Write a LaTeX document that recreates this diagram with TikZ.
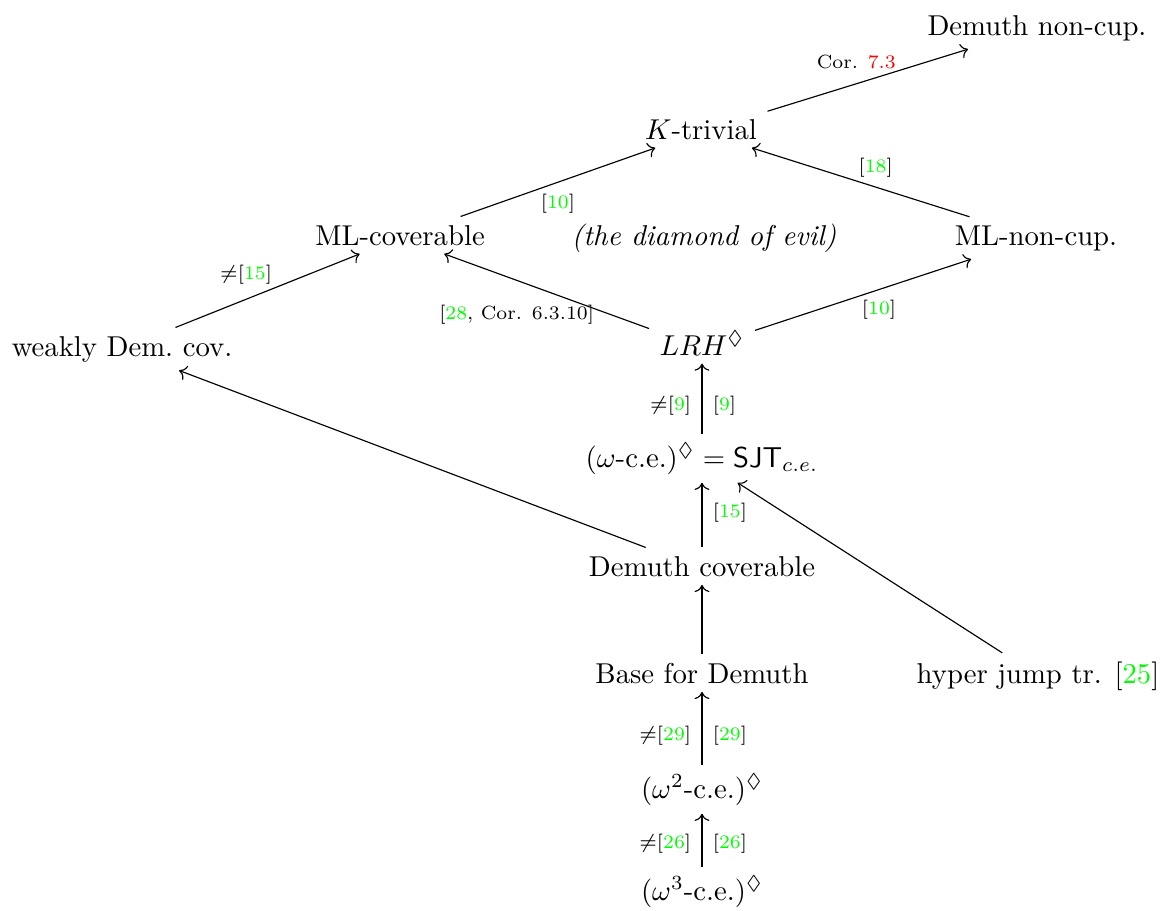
\documentclass[tikz,border=0pt]{standalone}
\usepackage{amsmath,amssymb}
\usetikzlibrary{cd,arrows.meta}
\definecolor{citegreen}{rgb}{0,1,0}
\definecolor{refred}{rgb}{1,0,0}
\newcommand{\cit}[1]{\textcolor{citegreen}{#1}}
\begin{document}
\begin{tikzpicture}[x=0.3484pt,y=-0.3484pt,
  obj/.style={shape=asymmetrical rectangle,anchor=base,inner xsep=3.5pt,inner ysep=2.8pt},
  lbl/.style={font=\fontsize{6.67}{8}\selectfont,inner sep=0pt},
  arr/.style={-{Computer Modern Rightarrow},line width=0.4pt}]
\useasboundingbox (0,0) rectangle (1160,911);

\node[obj] (dnc)  at (1037,35)  {Demuth non-cup.};
\node[obj] (kt)   at (701,139)  {$K$-trivial};
\node[obj] (mlc)  at (400,245)  {ML-coverable};
\node[obj] (evil) at (704,245)  {\textit{(the diamond of evil)}};
\node[obj] (mlnc) at (1036,245) {ML-non-cup.};
\node[obj] (wdc)  at (122,356)  {weakly Dem.\ cov.};
\node[obj] (lrh)  at (702,355)  {$LRH^\Diamond$};
\node[obj] (wce)  at (702,467)  {$(\omega\text{-c.e.})^\Diamond=\mathsf{SJT}_{c.e.}$};
\node[obj] (dcov) at (702,576)  {Demuth coverable};
\node[obj] (bfd)  at (702,683)  {Base for Demuth};
\node[obj] (hjt)  at (1038,683) {hyper jump tr. [\cit{25}]};
\node[obj] (w2)   at (702,798)  {$(\omega^2\text{-c.e.})^\Diamond$};
\node[obj] (w3)   at (702,900)  {$(\omega^3\text{-c.e.})^\Diamond$};

\draw[arr] (kt) -- node[lbl, midway, shift={(-11.5,-18)}] {Cor. \textcolor{refred}{7.3}} (dnc);
\draw[arr] (mlc) -- node[lbl, midway, shift={(0,22)}] {[\cit{10}]} (kt);
\draw[arr] (mlnc) -- node[lbl, midway, shift={(15,-14.5)}] {[\cit{18}]} (kt);
\draw[arr] (lrh) -- node[lbl, midway, shift={(-30,23)}] {[\cit{28}, Cor. 6.3.10]} (mlc);
\draw[arr] (lrh) -- node[lbl, midway, shift={(16,15)}] {[\cit{10}]} (mlnc);
\draw[arr] (wdc) -- node[lbl, midway, shift={(-21.5,-16)}] {$\neq$[\cit{15}]} (mlc);
\draw[arr] (wce) -- node[lbl, pos=.41, left=3.6pt] {$\neq$[\cit{9}]} node[lbl, pos=.41, right=3.6pt] {[\cit{9}]} (lrh);
\draw[arr] (dcov) -- node[lbl, pos=.53, right=3.6pt] {[\cit{15}]} (wce);
\draw[arr] (dcov) -- (wdc);
\draw[arr] (hjt) -- (wce);
\draw[arr] (bfd) -- (dcov);
\draw[arr] (w2) -- node[lbl, pos=.4, left=3.6pt] {$\neq$[\cit{29}]} node[lbl, pos=.4, right=3.6pt] {[\cit{29}]} (bfd);
\draw[arr] (w3) -- node[lbl, pos=.44, left=3.6pt] {$\neq$[\cit{26}]} node[lbl, pos=.44, right=3.6pt] {[\cit{26}]} (w2);
\end{tikzpicture}
\end{document}
